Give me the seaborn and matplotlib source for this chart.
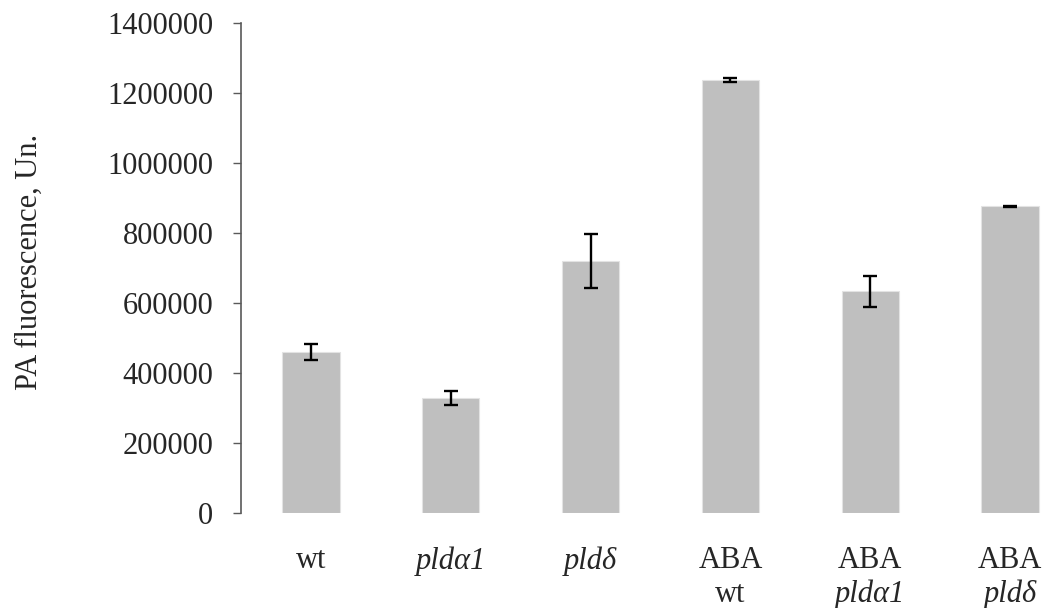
import numpy as np
import matplotlib as mpl
import matplotlib.pyplot as plt
import seaborn as sns
import pandas as pd

categories = ['wt', 'pldα1', 'pldδ', 'ABA wt', 'ABA pldα1', 'ABA pldδ']
line1 = ['wt', 'pldα1', 'pldδ', 'ABA', 'ABA', 'ABA']
line1_italic = [False, True, True, False, False, False]
line2 = ['wt', 'pldα1', 'pldδ']
line2_italic = [False, True, True]
means = [459000, 330000, 721000, 1236000, 633000, 876000]
errors = [23000, 20000, 77000, 6000, 45000, 1500]
yticks = [0, 200000, 400000, 600000, 800000, 1000000, 1200000, 1400000]

sns.set_style('white')
plt.rcParams['font.family'] = ['Liberation Serif', 'DejaVu Serif']

df = pd.DataFrame({'group': categories, 'value': means})

fig = plt.figure(figsize=(10.53, 6.08), dpi=100)
ax = fig.add_axes([0.2289, 0.1562, 0.7968, 0.806])
sns.barplot(data=df, x='group', y='value', color='#bfbfbf', width=0.41,
            errorbar=None, edgecolor='#e3e3e3', linewidth=0.8, ax=ax,
            saturation=1)
ax.errorbar(np.arange(len(means)), means, yerr=errors, fmt='none',
            ecolor='black', elinewidth=1.7, capsize=4.8, capthick=1.7)

ax.set_xlim(-0.5, 5.5)
ax.set_ylim(0, 1400000)
ax.set_yticks(yticks)
ax.set_yticklabels([str(v) for v in yticks])

# first line of the category labels on major ticks, second line on minor ticks
ax.xaxis.remove_overlapping_locs = False
ax.set_xticks(np.arange(len(categories)))
ax.set_xticklabels(line1)
ax.set_xticks(np.arange(3, 6), minor=True)
ax.set_xticklabels(line2, minor=True)
for lab, it in zip(ax.get_xticklabels(), line1_italic):
    lab.set_fontstyle('italic' if it else 'normal')
for lab, it in zip(ax.get_xticklabels(minor=True), line2_italic):
    lab.set_fontstyle('italic' if it else 'normal')

ax.tick_params(axis='y', direction='out', length=6, width=1, color='#595959',
               labelsize=22, pad=14, left=True)
ax.tick_params(axis='x', which='major', length=0, labelsize=22, pad=24)
ax.tick_params(axis='x', which='minor', length=0, labelsize=22, pad=48)

for s in ['top', 'right', 'bottom']:
    ax.spines[s].set_visible(False)
ax.spines['left'].set_color('#595959')
ax.spines['left'].set_linewidth(1.2)

ax.set_xlabel('')
ax.set_ylabel('PA fluorescence, Un.', fontsize=22)
ax.yaxis.set_label_coords(-0.235, 0.512)

plt.savefig('out.png', dpi=100)
